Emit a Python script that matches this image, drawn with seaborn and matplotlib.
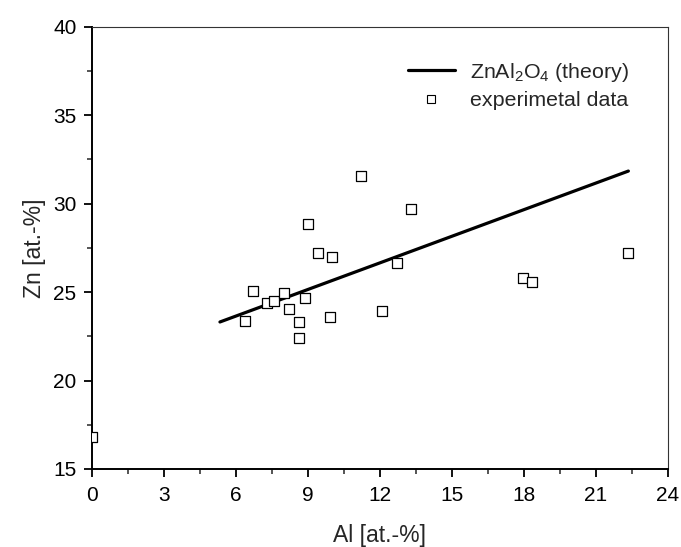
import matplotlib
matplotlib.use("Agg")
import matplotlib.pyplot as plt
import seaborn as sns
import pandas as pd
from matplotlib.ticker import MultipleLocator
from matplotlib.lines import Line2D

# Data
al_exp = [0.0, 6.38, 6.73, 7.29, 7.59, 8.01, 8.20, 8.65, 8.65, 8.90, 9.01, 9.44,
          10.0, 9.94, 11.20, 12.09, 12.70, 13.30, 17.98, 18.33, 22.35]
zn_exp = [16.8, 23.36, 25.06, 24.40, 24.51, 24.96, 24.02, 23.32, 22.42, 24.65, 28.85, 27.19,
          26.96, 23.57, 31.56, 23.95, 26.66, 29.69, 25.78, 25.55, 27.19]
al_theory = [5.34, 22.35]
zn_theory = [23.31, 31.84]

sns.set_style("white")
plt.rcParams['font.family'] = ['Liberation Sans', 'DejaVu Sans']
plt.rcParams['mathtext.fontset'] = 'custom'
plt.rcParams['mathtext.rm'] = 'Liberation Sans'
plt.rcParams['mathtext.it'] = 'Liberation Sans'

fig = plt.figure(figsize=(6.81, 5.47), dpi=100)
ax = fig.add_axes([0.1347, 0.1426, 0.9809 - 0.1347, 0.9512 - 0.1426])

df_t = pd.DataFrame({"Al": al_theory, "Zn": zn_theory})
df_e = pd.DataFrame({"Al": al_exp, "Zn": zn_exp})

sns.lineplot(data=df_t, x="Al", y="Zn", ax=ax, color="black", linewidth=2.3, legend=False)
sns.scatterplot(data=df_e, x="Al", y="Zn", ax=ax, marker="s", s=48,
                facecolor="white", edgecolor="black", linewidth=0.9, legend=False,
                clip_on=True, zorder=3)

ax.set_xlim(0, 24)
ax.set_ylim(15, 40)
ax.xaxis.set_major_locator(MultipleLocator(3))
ax.xaxis.set_minor_locator(MultipleLocator(1.5))
ax.yaxis.set_major_locator(MultipleLocator(5))
ax.yaxis.set_minor_locator(MultipleLocator(2.5))

ax.tick_params(axis="both", which="major", direction="out", length=6, width=1.3,
               labelsize=15, colors="black", bottom=True, left=True, top=False, right=False)
ax.tick_params(axis="x", which="major", pad=6)
ax.tick_params(axis="y", which="major", pad=5)
ax.tick_params(axis="both", which="minor", direction="out", length=3.5, width=1.1,
               bottom=True, left=True, top=False, right=False)

for side in ["left", "bottom"]:
    ax.spines[side].set_linewidth(1.4)
    ax.spines[side].set_color("black")
for side in ["top", "right"]:
    ax.spines[side].set_linewidth(0.8)
    ax.spines[side].set_color("#333333")

ax.set_xlabel("Al [at.-%]", fontsize=16.5, labelpad=14)
ax.set_ylabel("Zn [at.-%]", fontsize=16.5, labelpad=5)

handles = [
    Line2D([0], [0], color="black", linewidth=2.3),
    Line2D([0], [0], marker="s", linestyle="none", markersize=6, markerfacecolor="white",
           markeredgecolor="black", markeredgewidth=0.8),
]
labels = [r"ZnAl$_2$O$_4$ (theory)", "experimetal data"]
ax.legend(handles, labels, loc="upper left", frameon=False, fontsize=15.4,
          handlelength=2.2, handletextpad=0.7, labelspacing=0.35,
          bbox_to_anchor=(0.515, 0.966))

fig.savefig("out.png", dpi=100)
